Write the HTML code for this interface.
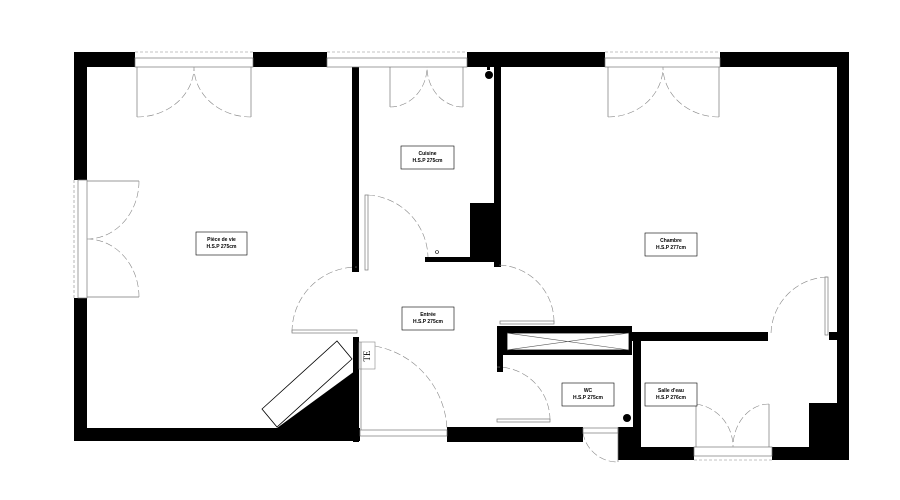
<!DOCTYPE html>
<html><head><meta charset="utf-8"><style>
html,body{margin:0;padding:0;background:#fff;}
svg{display:block}
text{font-family:"Liberation Sans",sans-serif;font-size:5px;font-weight:bold;text-anchor:middle}
</style></head><body>
<svg width="900" height="500" viewBox="0 0 900 500" xmlns="http://www.w3.org/2000/svg">
<g fill="#000">
<rect x="74" y="52" width="61" height="15"/>
<rect x="253" y="52" width="74" height="15"/>
<rect x="467" y="52" width="138" height="15"/>
<rect x="720" y="52" width="129" height="15"/>
<rect x="74" y="52" width="13" height="128"/>
<rect x="74" y="298" width="13" height="142"/>
<rect x="74" y="428" width="286" height="13"/>
<rect x="352" y="67" width="7" height="205"/>
<rect x="494" y="67" width="7" height="200"/>
<rect x="470" y="203" width="30" height="54"/>
<rect x="425" y="257" width="75" height="5"/>
<rect x="837" y="52" width="12" height="280"/>
<rect x="837" y="340" width="12" height="70"/>
<rect x="809" y="403" width="40" height="44"/>
<rect x="630" y="332" width="138" height="9"/>
<rect x="829" y="332" width="20" height="8"/>
<rect x="633" y="341" width="8" height="106"/>
<rect x="497" y="326" width="135" height="29"/>
<rect x="497" y="326" width="6" height="46"/>
<rect x="447" y="427" width="136" height="15"/>
<rect x="618" y="427" width="22" height="33"/>
<rect x="618" y="447" width="76" height="13"/>
<rect x="772" y="447" width="77" height="13"/>
<rect x="353" y="337" width="6" height="105"/>
<polygon points="359,368 277,428 359,428"/>
</g>
<rect x="507" y="333" width="122" height="17" fill="#fff" stroke="#000" stroke-width="0.8"/>
<path d="M507,333 L629,350 M507,350 L629,333" stroke="#555" stroke-width="0.6" fill="none"/>
<polygon points="262,409 337,341 352,359 277,427" fill="#fff" stroke="#000" stroke-width="0.8"/>
<rect x="359" y="342" width="16" height="27" fill="#fff" stroke="#888" stroke-width="0.6"/>
<text x="367" y="356" transform="rotate(-90 367 356)" style="font-size:9px;font-weight:normal;font-family:'Liberation Serif',serif" dy="3">TE</text>
<g fill="none" stroke="#777" stroke-width="0.7">
<rect x="135" y="58" width="118" height="9"/>
<rect x="327" y="58" width="140" height="9"/>
<rect x="605" y="58" width="115" height="9"/>
<rect x="78" y="180" width="9" height="118"/>
<rect x="694" y="447" width="78" height="9"/>
<rect x="360" y="430" width="87" height="6"/>
<rect x="583" y="428" width="35" height="5"/>
</g>
<g fill="none" stroke="#888" stroke-width="0.6" stroke-dasharray="3,2">
<line x1="135" y1="52" x2="253" y2="52"/>
<line x1="327" y1="52" x2="467" y2="52"/>
<line x1="605" y1="52" x2="720" y2="52"/>
<line x1="74" y1="180" x2="74" y2="298"/>
<line x1="694" y1="460" x2="772" y2="460"/>
</g>
<!-- leaves -->
<g fill="none" stroke="#777" stroke-width="0.7">
<path d="M137,67 V117 M251,67 V117 M390,67 V107 M463,67 V107 M608,67 V117 M719,67 V117"/>
<path d="M87,181 H139 M87,297 H139"/>
<rect x="365" y="195" width="3" height="75"/>
<rect x="292" y="330" width="65" height="3"/>
<rect x="500" y="321" width="54" height="3"/>
<line x1="361" y1="342" x2="361" y2="430"/>
<rect x="497" y="419" width="53" height="3"/>
<rect x="825" y="277" width="3" height="58"/>
<line x1="618" y1="427" x2="618" y2="462"/>
<path d="M696,404 V447 M769,404 V447"/>
</g>
<!-- arcs -->
<g fill="none" stroke="#888" stroke-width="0.6" stroke-dasharray="7,3">
<path d="M137,117 A57,50 0 0 0 194,67 M251,117 A57,50 0 0 1 194,67"/>
<path d="M390,107 A37,40 0 0 0 427,67 M463,107 A36,40 0 0 1 427,67"/>
<path d="M608,117 A55,50 0 0 0 663,67 M719,117 A56,50 0 0 1 663,67"/>
<path d="M139,181 A52,58 0 0 1 87,239 M139,297 A52,58 0 0 0 87,239"/>
<path d="M368,195 A64,64 0 0 1 428,257"/>
<path d="M292,332 A65,65 0 0 1 357,267"/>
<path d="M554,322 A57,57 0 0 0 497,265"/>
<path d="M375,346 A88,88 0 0 1 447,430"/>
<path d="M550,420 A53,53 0 0 0 497,367"/>
<path d="M827,277 A58,58 0 0 0 771,335"/>
<path d="M583,433 A35,35 0 0 0 618,462"/>
<path d="M696,404 A43,43 0 0 1 733,447 M769,404 A36,43 0 0 0 733,447"/>
</g>
<circle cx="489" cy="75" r="4" fill="#000"/>
<rect x="487" y="66" width="3" height="4" fill="#000"/>
<circle cx="627" cy="418" r="4" fill="#000"/>
<circle cx="437" cy="252" r="1.5" fill="none" stroke="#000" stroke-width="0.6"/>
<g fill="#fff" stroke="#000" stroke-width="0.6">
<rect x="196" y="232" width="51" height="23"/>
<rect x="401" y="146" width="53" height="23"/>
<rect x="402" y="307" width="52" height="23"/>
<rect x="645" y="233" width="52" height="23"/>
<rect x="562" y="383" width="52" height="23"/>
<rect x="645" y="383" width="52" height="23"/>
</g>
<text x="221.5" y="241">Pièce de vie</text><text x="221.5" y="248">H.S.P 275cm</text>
<text x="427.5" y="155">Cuisine</text><text x="427.5" y="162">H.S.P 275cm</text>
<text x="428" y="316">Entrée</text><text x="428" y="323">H.S.P 275cm</text>
<text x="671" y="242">Chambre</text><text x="671" y="249">H.S.P 277cm</text>
<text x="588" y="392">WC</text><text x="588" y="399">H.S.P 275cm</text>
<text x="671" y="392">Salle d'eau</text><text x="671" y="399">H.S.P 276cm</text>
</svg>
</body></html>
